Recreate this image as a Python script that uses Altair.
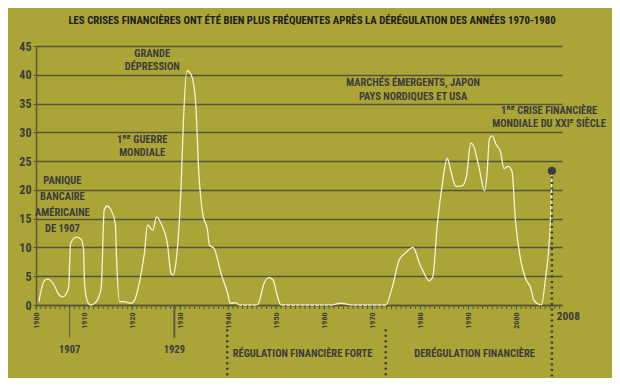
import altair as alt
import pandas as pd

# ---- data ----
years = [1900.6, 1901.8, 1902.5, 1903.5, 1904.9, 1905.6, 1906.3, 1906.8, 1907.2, 1908.4,
         1909.4, 1909.9, 1910.1, 1910.6, 1911.3, 1912.2, 1913.2, 1913.6, 1914.2, 1914.8,
         1915.6, 1916.5, 1916.8, 1917.4, 1918.4, 1919.1, 1919.8, 1920.5, 1921.5, 1922.6,
         1923.2, 1924.3, 1925.1, 1926.0, 1927.4, 1928.1, 1928.6, 1929.1, 1930.2, 1930.7,
         1931.4, 1932.3, 1933.2, 1933.9, 1934.7, 1935.7, 1936.1, 1937.1, 1938.5, 1939.9,
         1940.4, 1941.6, 1942.3, 1946.1, 1947.5, 1948.5, 1949.4, 1950.1, 1951.0, 1961.4,
         1963.4, 1965.9, 1972.8, 1974.2, 1975.6, 1977.0, 1978.5, 1979.0, 1979.7, 1980.8,
         1981.8, 1982.6, 1983.5, 1984.6, 1985.6, 1986.3, 1987.4, 1988.7, 1989.6, 1990.5,
         1991.0, 1992.2, 1993.4, 1993.9, 1994.4, 1995.0, 1995.7, 1996.7, 1997.4, 1998.3,
         1999.1, 1999.8, 2000.9, 2001.9, 2003.0, 2003.6, 2004.7, 2005.2, 2006.1, 2007.1,
         2007.4]
values = [0.6, 4.3, 4.5, 3.8, 1.7, 1.4, 2.0, 3.2, 10.7, 11.8,
          11.4, 9.6, 3.8, 0.9, 0.0, 0.3, 1.7, 3.2, 16.5, 17.2,
          16.5, 14.2, 7.3, 0.6, 0.6, 0.4, 0.3, 0.8, 3.8, 9.3,
          13.9, 13.0, 15.3, 14.2, 10.4, 5.5, 5.2, 7.2, 20.6, 32.1,
          40.7, 40.0, 35.6, 22.9, 15.9, 13.0, 10.4, 9.8, 5.5, 2.0,
          0.3, 0.4, 0.0, 0.0, 3.8, 4.8, 4.3, 2.0, 0.0, 0.0,
          0.3, 0.0, 0.0, 3.2, 7.8, 9.1, 10.0, 9.3, 7.5, 5.5,
          4.2, 4.9, 13.6, 21.1, 25.5, 23.5, 20.6, 20.7, 22.3, 28.1,
          27.8, 24.0, 19.8, 22.9, 29.0, 29.4, 28.0, 26.6, 23.7, 24.1,
          23.2, 14.8, 7.8, 4.6, 2.9, 0.9, 0.1, 0.0, 4.9, 14.8,
          23.3]

y_ticks = [0, 5, 10, 15, 20, 25, 30, 35, 40, 45]
decade_ticks = list(range(1900, 2001, 10))
year_ticks = list(range(1900, 2010))

# annotations inside the plot
ann_text = ["GRANDE", "DÉPRESSION", "1ᴿᴱ GUERRE", "MONDIALE",
            "PANIQUE", "BANCAIRE", "AMÉRICAINE", "DE 1907",
            "MARCHÉS ÉMERGENTS, JAPON", "PAYS NORDIQUES ET USA",
            "1ᴿᴱ CRISE FINANCIÈRE", "MONDIALE DU XXIᴱ SIÈCLE"]
ann_x = [1924.2, 1924.2, 1922.1, 1922.1,
         1905.5, 1905.5, 1905.5, 1905.5,
         1978.5, 1978.5,
         2006.8, 2006.8]
ann_y = [43.6, 41.3, 28.7, 26.4,
         21.5, 18.8, 16.0, 13.2,
         38.6, 36.1,
         33.7, 31.4]

# annotations under the axis
low_text = ["1907", "1929", "RÉGULATION FINANCIÈRE FORTE", "DERÉGULATION FINANCIÈRE"]
low_x = [1907.0, 1928.8, 1955.5, 1991.3]
low_y = [-7.8, -7.8, -8.6, -8.6]

marker_years = [1907.0, 1928.8]
marker_widths = [1.0, 2.0]
marker_bottom = -5.7

period_years = [1939.8, 1972.8]
period_top = -4.2
period_bottom = -12.6

crisis_year = 2007.4
crisis_value = 23.3

BG = "#aaa536"
DARK = "#3c3c3a"
AXC = "#58573a"
FONT = "'Roboto Condensed', 'DejaVu Sans Condensed', 'Liberation Sans Narrow', 'Open Sans', sans-serif"
FS = 10.5

x_scale = alt.Scale(domain=[1900, 2009.5], nice=False, zero=False)
y_scale = alt.Scale(domain=[0, 45], nice=False)

x_axis = alt.Axis(values=decade_ticks, title=None, labelAngle=270, format="d",
                  labelFontSize=8, labelColor=DARK, labelFont=FONT,
                  labelFontWeight="bold", labelAlign="right",
                  labelBaseline="middle", labelPadding=3,
                  tickSize=4, tickColor=AXC, tickWidth=1,
                  domainColor=AXC, domainWidth=1.5, grid=False,
                  labelOverlap=False, labelFlush=False)
y_axis = alt.Axis(values=y_ticks, title=None, labelFontSize=12,
                  labelColor=DARK, labelFont=FONT, labelFontWeight="bold",
                  tickSize=3, tickColor=AXC, labelPadding=2, labelOverlap=False,
                  domainColor=AXC, domainWidth=1.5,
                  grid=True, gridColor="#55553a", gridWidth=1.3)

X = alt.X("x:Q", scale=x_scale, axis=x_axis)
Y = alt.Y("y:Q", scale=y_scale, axis=y_axis)

df = pd.DataFrame({"x": years, "y": values})
line = alt.Chart(df).mark_line(
    color="#f4f1d6", strokeWidth=1.3, interpolate="monotone"
).encode(x=X, y=Y)

yt_df = pd.DataFrame({"x": year_ticks, "y": [0.0] * len(year_ticks),
                      "y2": [-0.7] * len(year_ticks)})
minor = alt.Chart(yt_df).mark_rule(color=AXC, strokeWidth=1).encode(x=X, y=Y, y2="y2:Q")

ann_df = pd.DataFrame({"t": ann_text, "x": ann_x, "y": ann_y})
ann = alt.Chart(ann_df).mark_text(
    font=FONT, fontWeight="bold", fontSize=FS, color=DARK, baseline="middle", align="center"
).encode(x=X, y=Y, text="t:N")

low_df = pd.DataFrame({"t": low_text, "x": low_x, "y": low_y})
low = alt.Chart(low_df).mark_text(
    font=FONT, fontWeight="bold", fontSize=FS, color=DARK, baseline="middle", align="center"
).encode(x=X, y=Y, text="t:N")

mk_df = pd.DataFrame({"x": marker_years, "w": marker_widths,
                      "y": [0.0, 0.0], "y2": [marker_bottom, marker_bottom]})
markers = alt.Chart(mk_df).mark_rule(color="#5f5d38").encode(
    x=X, y=Y, y2="y2:Q",
    strokeWidth=alt.StrokeWidth("w:Q", scale=None, legend=None))

pr_df = pd.DataFrame({"x": period_years + [crisis_year],
                      "y": [period_top, period_top, crisis_value],
                      "y2": [period_bottom] * 3})
periods = alt.Chart(pr_df).mark_rule(color=DARK, strokeWidth=2.5, strokeDash=[2, 3.5]).encode(
    x=X, y=Y, y2="y2:Q")

dot_df = pd.DataFrame({"x": [crisis_year], "y": [crisis_value]})
dot = alt.Chart(dot_df).mark_circle(color=DARK, size=70, opacity=1).encode(x=X, y=Y)

end_df = pd.DataFrame({"t": ["2008"], "x": [2008.4], "y": [-2.1]})
end_lbl = alt.Chart(end_df).mark_text(
    font=FONT, fontWeight="bold", fontSize=11.5, color=DARK, baseline="middle", align="left"
).encode(x=X, y=Y, text="t:N")

chart = alt.layer(line, minor, markers, periods, dot, ann, low, end_lbl).properties(
    width=526, height=259,
    autosize=alt.AutoSizeParams(type="none"),
    padding={"left": 28, "top": 38, "right": 50, "bottom": 73},
    background=BG,
    title=alt.TitleParams(
        "LES CRISES FINANCIÈRES ONT ÉTÉ BIEN PLUS FRÉQUENTES APRÈS LA DÉRÉGULATION DES ANNÉES 1970-1980",
        font=FONT, fontWeight="bold", fontSize=10.8, color="#1c1c1a",
        anchor="middle", dx=13, offset=14),
).configure_view(stroke=None)

chart.save("out.html", embed_options={"renderer": "svg", "actions": False})
